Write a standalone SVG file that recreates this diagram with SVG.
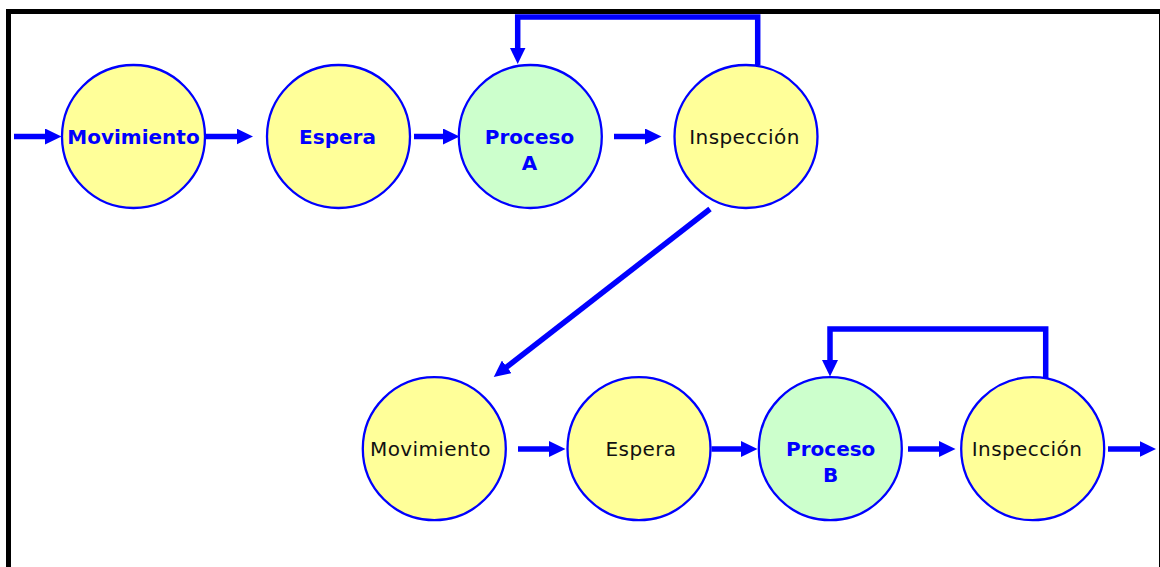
<svg xmlns="http://www.w3.org/2000/svg" width="1160" height="567" viewBox="0 0 1160 567">
<style>
.yel{fill:#FFFF99;stroke:#0000FF;stroke-width:2.3}
.grn{fill:#CCFFCC;stroke:#0000FF;stroke-width:2.3}
.b{font-family:"DejaVu Sans",Verdana,sans-serif;font-weight:bold;font-size:20px;fill:#0000FF;text-anchor:middle}
.r{font-family:"DejaVu Sans",Verdana,sans-serif;font-size:20px;fill:#111;text-anchor:middle;letter-spacing:0.4px}
.c{fill:none;stroke:#0000FF;stroke-width:5.5;stroke-linejoin:miter;marker-end:url(#ah)}
</style>
<defs>
<marker id="ah" markerUnits="userSpaceOnUse" markerWidth="17" markerHeight="16" refX="1" refY="8" orient="auto">
<path d="M0,0 L16.5,8 L0,16 z" fill="#0000FF"/>
</marker>
</defs>
<rect x="0" y="0" width="1160" height="567" fill="#fff"/>
<rect x="8.5" y="11.5" width="1153" height="570" fill="none" stroke="#000" stroke-width="5"/>
<g id="connectors">
<path class="c" d="M14,136.5 H46"/>
<path class="c" d="M205,136.5 H237.5"/>
<path class="c" d="M414,136.5 H444"/>
<path class="c" d="M614,136.5 H646"/>
<path class="c" d="M757.7,65 V17 H517.7 V48.5"/>
<path class="c" d="M710,209 L506,367.5"/>
<path class="c" d="M518,449 H550"/>
<path class="c" d="M711.5,449 H742"/>
<path class="c" d="M908,449 H940"/>
<path class="c" d="M1108,449 H1140.5"/>
<path class="c" d="M1045.7,378 V329 H830 V361"/>
</g>
<g id="n1"><circle class="yel" cx="133.5" cy="136.5" r="71.5"/><text class="b" x="133.5" y="143.5">Movimiento</text></g>
<g id="n2"><circle class="yel" cx="338.5" cy="136.5" r="71.5"/><text class="b" x="337.5" y="143.5">Espera</text></g>
<g id="n3"><circle class="grn" cx="530.3" cy="136.5" r="71.5"/><text class="b" x="529.5" y="144">Proceso</text><text class="b" x="529.5" y="169.5">A</text></g>
<g id="n4"><circle class="yel" cx="746" cy="136.5" r="71.5"/><text class="r" x="744.5" y="144">Inspección</text></g>
<g id="n5"><circle class="yel" cx="434.3" cy="448.7" r="71.5"/><text class="r" x="430.5" y="455.7">Movimiento</text></g>
<g id="n6"><circle class="yel" cx="639" cy="448.7" r="71.5"/><text class="r" x="641" y="455.7">Espera</text></g>
<g id="n7"><circle class="grn" cx="830.3" cy="448.7" r="71.5"/><text class="b" x="830.7" y="456">Proceso</text><text class="b" x="830.7" y="481.7">B</text></g>
<g id="n8"><circle class="yel" cx="1032.7" cy="448.7" r="71.5"/><text class="r" x="1027" y="456">Inspección</text></g>
</svg>
